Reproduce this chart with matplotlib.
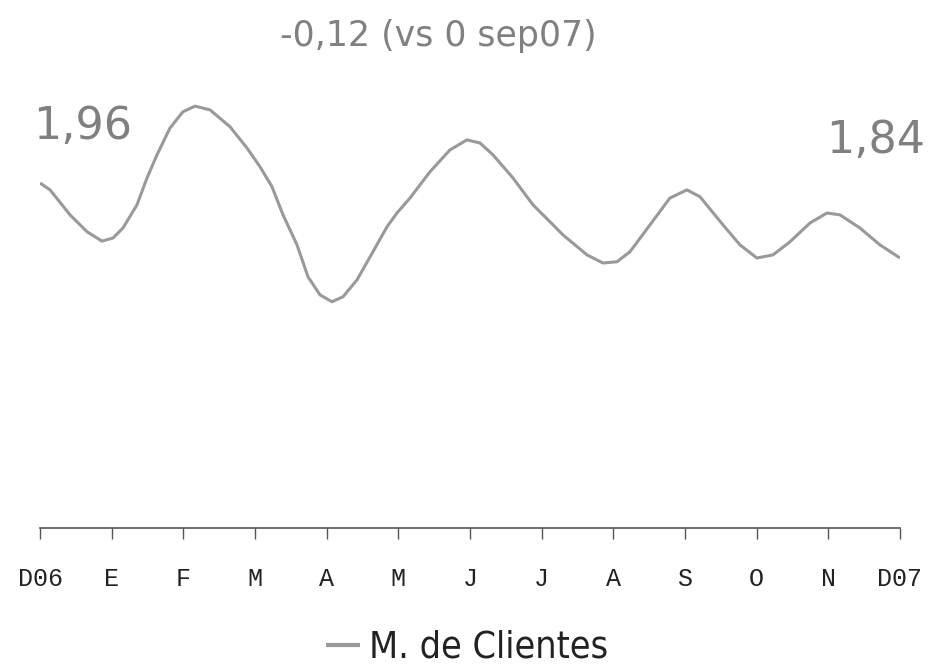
import matplotlib
matplotlib.use("Agg")
import matplotlib.pyplot as plt
from matplotlib import font_manager

# posición en meses desde D06 (0 = D06, 12 = D07) y valor leído
meses = [0.000, 0.140, 0.419, 0.656, 0.865, 1.019, 1.158, 1.353, 1.493, 1.632,
         1.814, 1.995, 2.163, 2.372, 2.651, 2.888, 3.070, 3.237, 3.391, 3.586,
         3.739, 3.907, 4.074, 4.228, 4.423, 4.646, 4.842, 4.981, 5.163, 5.442,
         5.721, 5.958, 6.139, 6.321, 6.600, 6.879, 7.116, 7.297, 7.632, 7.855,
         8.051, 8.232, 8.511, 8.790, 9.027, 9.209, 9.530, 9.767, 10.004, 10.228,
         10.465, 10.744, 10.981, 11.162, 11.441, 11.720, 12.000]
clientes = [1.960, 1.949, 1.909, 1.882, 1.867, 1.872, 1.888, 1.925, 1.968, 2.005,
            2.048, 2.074, 2.083, 2.077, 2.050, 2.016, 1.986, 1.954, 1.909, 1.861,
            1.810, 1.781, 1.770, 1.778, 1.805, 1.850, 1.890, 1.912, 1.936, 1.978,
            2.013, 2.029, 2.024, 2.005, 1.968, 1.925, 1.898, 1.877, 1.845, 1.832,
            1.834, 1.850, 1.893, 1.936, 1.949, 1.938, 1.893, 1.861, 1.840, 1.845,
            1.866, 1.896, 1.912, 1.909, 1.888, 1.861, 1.840]

etiquetas = ["D06", "E", "F", "M", "A", "M", "J", "J", "A", "S", "O", "N", "D07"]
titulo = "-0,12 (vs 0 sep07)"
valor_ini = "1,96"
valor_fin = "1,84"
serie = "M. de Clientes"

gris_linea = "#999999"
gris_texto = "#808080"

estrechas = [f for f in font_manager.fontManager.ttflist
             if f.name == "DejaVu Sans" and f.stretch == "condensed"]
prop_leyenda = {"family": "DejaVu Sans", "size": 27}
if estrechas:
    prop_leyenda["stretch"] = "condensed"
else:
    prop_leyenda["size"] = 24

fig = plt.figure(figsize=(9.32, 6.65), dpi=100)
ax = fig.add_axes([40 / 932, 137 / 665, 860 / 932, 448 / 665])

linea, = ax.plot(meses, clientes, color=gris_linea, linewidth=2.2,
                 solid_capstyle="butt", solid_joinstyle="round", label=serie)

ax.set_xlim(0, 12)
ax.set_ylim(2.2528 - 0.0016 * 528, 2.2528 - 0.0016 * 80)
ax.set_xticks(range(len(etiquetas)))
ax.set_xticklabels(etiquetas, fontfamily="Liberation Mono", fontsize=18,
                   color="#222222")
ax.tick_params(axis="x", direction="out", length=8, width=1, color="#555555",
               pad=20)
ax.set_yticks([])
for lado in ["top", "right", "left"]:
    ax.spines[lado].set_visible(False)
ax.spines["bottom"].set_color("#555555")
ax.spines["bottom"].set_linewidth(1.2)

fig.text(438 / 932, 1 - 36 / 665, titulo, ha="center", va="center",
         fontsize=25, color=gris_texto)
fig.text(33 / 932, 1 - 126 / 665, valor_ini, ha="left", va="center",
         fontsize=32, color=gris_texto)
fig.text(925 / 932, 1 - 140 / 665, valor_fin, ha="right", va="center",
         fontsize=32, color=gris_texto)

fig.legend(handles=[linea], loc="center", bbox_to_anchor=(467 / 932, 1 - 648 / 665),
           frameon=False, handlelength=0.9, handletextpad=0.25,
           prop=prop_leyenda)
for t in fig.legends[0].get_texts():
    t.set_color("#222222")
for h in fig.legends[0].get_lines():
    h.set_linewidth(3)

fig.savefig("out.png", dpi=100)
